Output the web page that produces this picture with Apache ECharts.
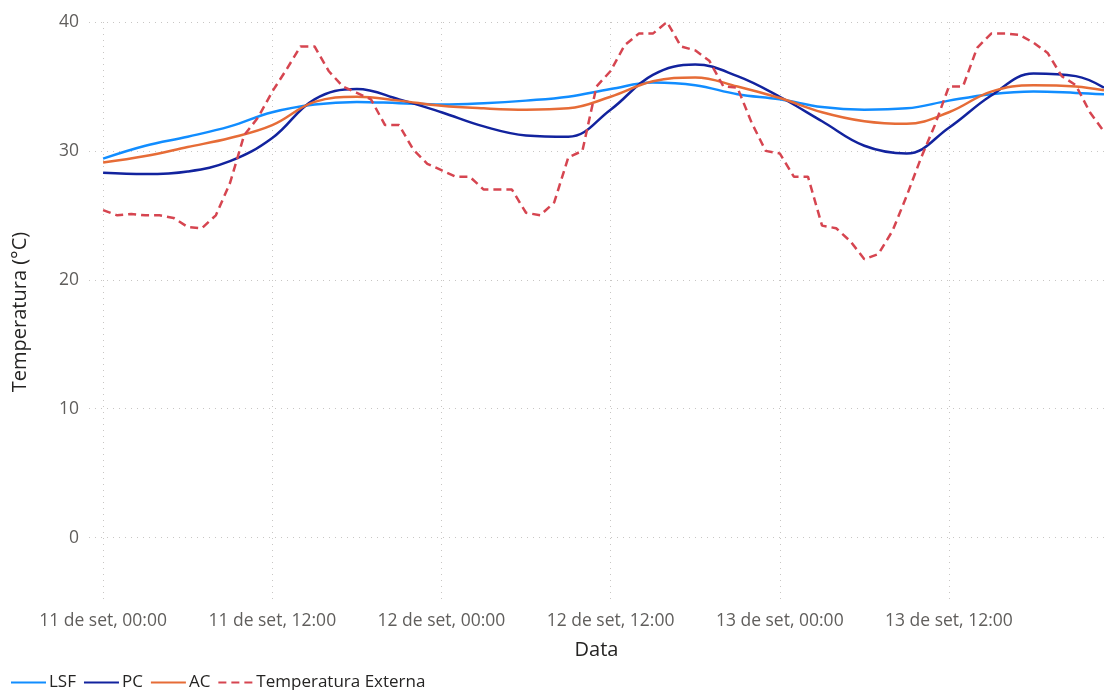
<!DOCTYPE html>
<html>
<head>
<meta charset="utf-8">
<script src="https://cdn.jsdelivr.net/npm/echarts@6/dist/echarts.min.js"></script>
<style>
  html, body { margin: 0; padding: 0; background: #fff; }
  #chart { width: 1104px; height: 690px; }
</style>
</head>
<body>
<div id="chart"></div>
<script>
// hours since 11 de set, 00:00
const smoothHours = [0, 3, 6, 9, 12, 15, 18, 21, 24, 27, 30, 33, 36, 39, 42, 45, 48, 51, 54, 57, 60, 63, 66, 69, 71]
const lsf = [29.4, 30.4, 31.1, 31.9, 33.0, 33.6, 33.8, 33.7, 33.6, 33.7, 33.9, 34.2, 34.8, 35.3, 35.1, 34.4, 34.0, 33.4, 33.2, 33.3, 33.9, 34.4, 34.6, 34.5, 34.4]
const pc = [28.3, 28.2, 28.4, 29.2, 31.0, 34.0, 34.8, 34.0, 33.0, 31.9, 31.2, 31.1, 33.2, 35.9, 36.7, 35.8, 34.2, 32.3, 30.4, 29.8, 31.8, 34.3, 36.0, 35.8, 34.9]
const ac = [29.1, 29.6, 30.3, 31.0, 32.0, 33.8, 34.2, 33.9, 33.5, 33.3, 33.2, 33.3, 34.2, 35.4, 35.7, 35.0, 34.1, 33.0, 32.3, 32.1, 33.0, 34.6, 35.1, 35.0, 34.7]

const extHours = Array.from({ length: 72 }, (_, i) => i)
const externa = [
  25.4, 25.0, 25.1, 25.0, 25.0, 24.8, 24.1, 24.0, 25.0, 27.5, 31.2, 32.6,
  34.6, 36.3, 38.1, 38.1, 36.2, 35.0, 34.5, 34.0, 32.0, 32.0, 30.1, 29.0,
  28.5, 28.0, 28.0, 27.0, 27.0, 27.0, 25.2, 25.0, 26.0, 29.5, 30.0, 35.0,
  36.2, 38.2, 39.1, 39.1, 40.0, 38.1, 37.8, 37.0, 35.0, 34.9, 32.2, 30.0,
  29.8, 28.0, 28.0, 24.2, 24.0, 23.0, 21.6, 22.0, 23.8, 26.5, 29.4, 32.0,
  35.0, 35.0, 38.0, 39.1, 39.1, 39.0, 38.4, 37.6, 35.8, 35.1, 33.0, 31.5
]

const xTicks = [0, 12, 24, 36, 48, 60]
const xTickLabels = ['11 de set, 00:00', '11 de set, 12:00', '12 de set, 00:00', '12 de set, 12:00', '13 de set, 00:00', '13 de set, 12:00']
const yTicks = [0, 10, 20, 30, 40]

const font = '"Segoe UI", "Open Sans", "Noto Sans", sans-serif'
const pair = (xs, ys) => xs.map((x, i) => [x, ys[i]])

const chart = echarts.init(document.getElementById('chart'))
chart.setOption({
  animation: false,
  textStyle: { fontFamily: font },
  grid: { left: 89, right: 0, top: 22, bottom: 88, containLabel: false, outerBoundsMode: 'none' },
  legend: {
    left: 5,
    top: 669,
    itemWidth: 35,
    itemHeight: 14,
    itemGap: 7,
    itemStyle: { opacity: 0 },
    textStyle: { fontFamily: font, fontSize: 17, color: '#252423', padding: [0, 0, 0, -2] },
    data: ['LSF', 'PC', 'AC', 'Temperatura Externa']
  },
  xAxis: {
    type: 'value',
    min: -1,
    max: 71,
    name: 'Data',
    nameLocation: 'middle',
    nameGap: 38,
    nameTextStyle: { fontFamily: font, fontSize: 20, color: '#252423' },
    axisLine: { show: false },
    axisTick: { show: false, customValues: xTicks },
    axisLabel: {
      customValues: xTicks,
      fontSize: 17.5,
      color: '#605E5C',
      margin: 10,
      formatter: v => xTickLabels[xTicks.indexOf(v)]
    },
    splitLine: { show: true, lineStyle: { color: '#C8C6C4', type: [1, 5], width: 1 } }
  },
  yAxis: {
    type: 'value',
    min: -5,
    max: 40,
    name: 'Temperatura (°C)',
    nameLocation: 'middle',
    nameGap: 59,
    nameTextStyle: { fontFamily: font, fontSize: 20, color: '#252423' },
    axisLine: { show: false },
    axisTick: { show: false, customValues: yTicks },
    axisLabel: { customValues: yTicks, fontSize: 17.5, color: '#605E5C', margin: 10 },
    splitLine: { show: true, lineStyle: { color: '#C8C6C4', type: [1, 5], width: 1 } }
  },
  series: [
    {
      name: 'LSF', type: 'line', smooth: 0.4, symbol: 'none',
      data: pair(smoothHours, lsf),
      lineStyle: { color: '#118DFF', width: 2.5 },
      itemStyle: { color: '#118DFF' }
    },
    {
      name: 'PC', type: 'line', smooth: 0.4, symbol: 'none',
      data: pair(smoothHours, pc),
      lineStyle: { color: '#12239E', width: 2.5 },
      itemStyle: { color: '#12239E' }
    },
    {
      name: 'AC', type: 'line', smooth: 0.4, symbol: 'none',
      data: pair(smoothHours, ac),
      lineStyle: { color: '#E66C37', width: 2.5 },
      itemStyle: { color: '#E66C37' }
    },
    {
      name: 'Temperatura Externa', type: 'line', symbol: 'none',
      data: pair(extHours, externa),
      lineStyle: { color: '#D64550', width: 2.5, type: [8, 5] },
      itemStyle: { color: '#D64550' }
    }
  ]
})
</script>
</body>
</html>
